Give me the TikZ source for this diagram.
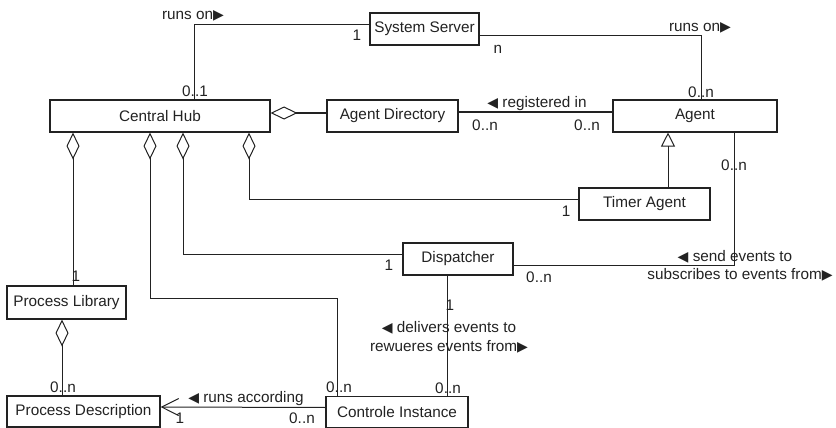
\documentclass[tikz,border=0pt]{standalone}
\usepackage{fontspec}
\setmainfont{Liberation Sans}
\newfontfamily\symfont{DejaVu Sans}
\usetikzlibrary{arrows.meta}
\definecolor{ink}{HTML}{222222}
\newcommand{\rarr}{{\symfont\fontsize{14}{14}\selectfont ▶}}
\newcommand{\larr}{{\symfont\fontsize{14}{14}\selectfont ◀}}
\begin{document}
\begin{tikzpicture}[x=1pt,y=-1pt,
  font=\fontsize{15.3}{18}\selectfont,
  cls/.style={draw=ink,line width=1.1pt,fill=white,minimum height=32pt,inner sep=0pt,text=ink},
  lbl/.style={inner sep=0pt,text=ink},
  conn/.style={draw=ink,line width=1pt},
  agg/.style={conn,{Diamond[open,length=27pt,width=13pt,line width=1pt]}-},
  gen/.style={conn,-{Triangle[open,length=14pt,width=14pt,line width=1pt]}},
  nav/.style={conn,-{Straight Barb[length=17pt,width=17pt,line width=1pt]}}]
\useasboundingbox (0,0) rectangle (836,428);

% classes
\node[cls,minimum width=109pt] (server) at (424.5,29) {System Server};
\node[cls,minimum width=220pt] (hub) at (160,116) {Central Hub};
\node[cls,minimum width=131pt] (dir) at (392.5,116) {Agent Directory};
\node[cls,minimum width=164pt] (agent) at (695,116) {Agent};
\node[cls,minimum width=131pt] (timer) at (644.5,204) {Timer Agent};
\node[cls,minimum width=110pt] (disp) at (458,259) {Dispatcher};
\node[cls,minimum width=119pt,minimum height=33pt] (lib) at (66.5,302.5) {Process Library};
\node[cls,minimum width=153pt,minimum height=31pt] (desc) at (83.5,411.5) {Process Description};
\node[cls,minimum width=142pt,minimum height=31pt] (ctrl) at (397,412) {Controle Instance};

% associations
\draw[conn] ([yshift=4pt]server.west) -| ([xshift=34pt]hub.north);
\draw[conn] ([yshift=-7pt]server.east) -| ([xshift=6pt]agent.north);
\draw[conn] ([yshift=4pt]dir.east) -- ([yshift=4pt]agent.west);
\draw[conn] ([xshift=39pt]agent.south) |- ([yshift=-6pt]disp.east);
\draw[conn] ([xshift=-11pt]disp.south) -- ([xshift=50pt]ctrl.north);
\draw[nav] ([yshift=4.5pt]ctrl.west) -- ([yshift=4.5pt]desc.east);

% aggregations
\draw[agg] ([yshift=3pt]hub.east) -- ([yshift=3pt]dir.west);
\draw[agg] ([xshift=89pt]hub.south) |- ([yshift=5pt]timer.west);
\draw[agg] ([xshift=23pt]hub.south) |- ([yshift=5pt]disp.west);
\draw[agg] ([xshift=-10pt]hub.south) -- ++(0,166) -| ([xshift=-60pt]ctrl.north);
\draw[agg] ([xshift=-87pt]hub.south) -- ([xshift=6.5pt]lib.north);
\draw[agg] ([xshift=-4.5pt]lib.south) -- ([xshift=-21.5pt]desc.north);

% generalization
\draw[gen] ([xshift=23.5pt]timer.north) -- ([xshift=-27pt]agent.south);

% association names
\node[lbl] (runsA) at (193,16) {runs on\rarr};
\node[lbl] (runsB) at (700,28) {runs on\rarr};
\node[lbl] (reg) at (537,104) {\larr\ registered in};
\node[lbl] (sendA) at (735,257) {\larr\ send events to};
\node[lbl] (sendB) at (740,275) {subscribes to events from\rarr};
\node[lbl] (delA) at (449,328) {\larr\ delivers events to};
\node[lbl] (delB) at (449,347) {rewueres events from\rarr};
\node[lbl] (acc) at (246,399) {\larr\ runs according};

% multiplicities
\node[lbl] (m1a) at (357,35) {1};
\node[lbl] (m1b) at (195,91) {0..1};
\node[lbl] (m2a) at (498,49) {n};
\node[lbl] (m2b) at (701,92) {0..n};
\node[lbl] (m4a) at (485,125) {0..n};
\node[lbl] (m4b) at (587,125) {0..n};
\node[lbl] (m6) at (566,211) {1};
\node[lbl] (m7) at (389,265) {1};
\node[lbl] (m8) at (339,387) {0..n};
\node[lbl] (m9) at (76,276) {1};
\node[lbl] (m10) at (63,387) {0..n};
\node[lbl] (m11a) at (734,165) {0..n};
\node[lbl] (m11b) at (539,277) {0..n};
\node[lbl] (m12a) at (450,305) {1};
\node[lbl] (m12b) at (448,388) {0..n};
\node[lbl] (m13a) at (180,418) {1};
\node[lbl] (m13b) at (302,418) {0..n};
\end{tikzpicture}
\end{document}
